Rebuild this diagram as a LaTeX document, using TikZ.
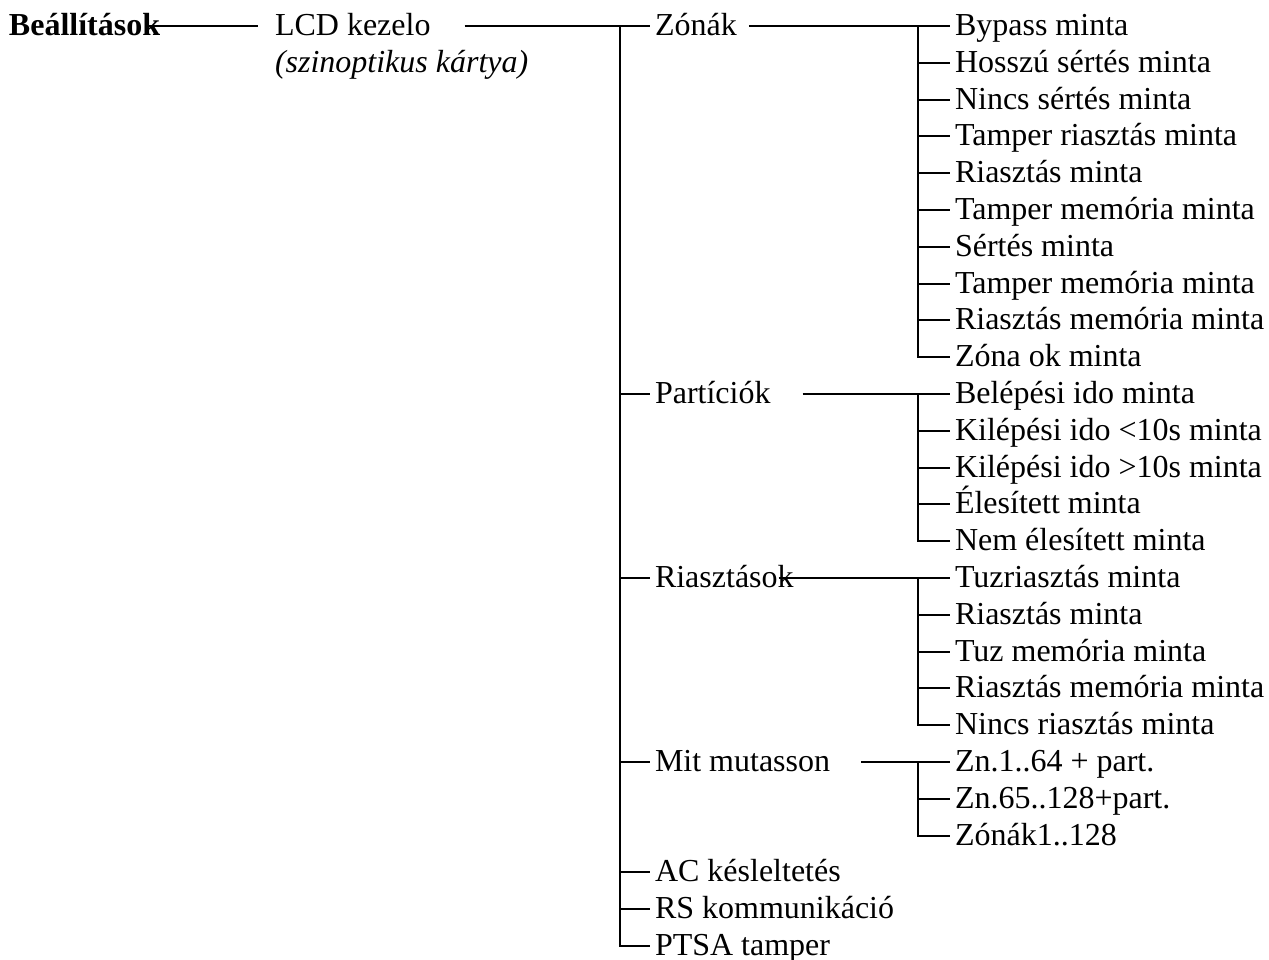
\documentclass[tikz,border=0pt]{standalone}
\usepackage{fontspec}
\setmainfont{Liberation Serif}
\newcommand\bigf{\fontsize{32}{36}\selectfont}
\begin{document}
\begin{tikzpicture}[x=1pt,y=-1pt, line width=2pt,
  lbl/.style={anchor=west, inner xsep=4pt, inner ysep=0pt, text height=24pt, text depth=5pt, font=\bigf}]
\useasboundingbox (0,0) rectangle (1269,960);
\def\r#1{{26+36.8*#1}}
% level 0 / 1
\node[lbl, font=\bigf\bfseries, inner xsep=0pt] (root) at (8,\r{0}) {Beállítások};
\node[lbl] (lcd) at (270,\r{0}) {LCD kezelo};
\node[lbl, font=\bigf\itshape] (lcdsub) at (270,\r{1}) {(szinoptikus kártya)};
\coordinate (t0) at (620,\r{0});
\draw ([xshift=-16pt]root.east) -- ([xshift=-12pt]lcd.west);
\draw ([xshift=29pt]lcd.east) -- (t0);
% level 2
\node[lbl] (zon) at (650,\r{0}) {Zónák};
\node[lbl] (par) at (650,\r{10}) {Partíciók};
\node[lbl] (ria) at (650,\r{15}) {Riasztások};
\node[lbl] (mit) at (650,\r{20}) {Mit mutasson};
\node[lbl] (ac) at (650,\r{23}) {AC késleltetés};
\node[lbl] (rs) at (650,\r{24}) {RS kommunikáció};
\node[lbl] (pt) at (650,\r{25}) {PTSA tamper};
\foreach \n in {zon,par,ria,mit,ac,rs,pt} \draw (t0) |- (\n.west);
% junctions
\coordinate (jz) at (918,\r{0});
\coordinate (jp) at (918,\r{10});
\coordinate (jr) at (918,\r{15});
\coordinate (jm) at (918,\r{20});
\draw ([xshift=7pt]zon.east) -- (jz);
\draw ([xshift=27pt]par.east) -- (jp);
\draw ([xshift=-20pt]ria.east) -- (jr);
\draw ([xshift=26pt]mit.east) -- (jm);
% leaves
\foreach \k/\t/\j in {0/Bypass minta/jz, 1/Hosszú sértés minta/jz, 2/Nincs sértés minta/jz,
  3/Tamper riasztás minta/jz, 4/Riasztás minta/jz, 5/Tamper memória minta/jz, 6/Sértés minta/jz,
  7/Tamper memória minta/jz, 8/Riasztás memória minta/jz, 9/Zóna ok minta/jz,
  10/Belépési ido minta/jp, 11/Kilépési ido <10s minta/jp, 12/Kilépési ido >10s minta/jp,
  13/Élesített minta/jp, 14/Nem élesített minta/jp,
  15/Tuzriasztás minta/jr, 16/Riasztás minta/jr, 17/Tuz memória minta/jr,
  18/Riasztás memória minta/jr, 19/Nincs riasztás minta/jr,
  20/Zn.1..64 + part./jm, 21/Zn.65..128+part./jm, 22/Zónák1..128/jm} {
  \node[lbl] (leaf\k) at (950,\r{\k}) {\t};
  \draw (\j) |- (leaf\k.west);
}
\end{tikzpicture}
\end{document}
